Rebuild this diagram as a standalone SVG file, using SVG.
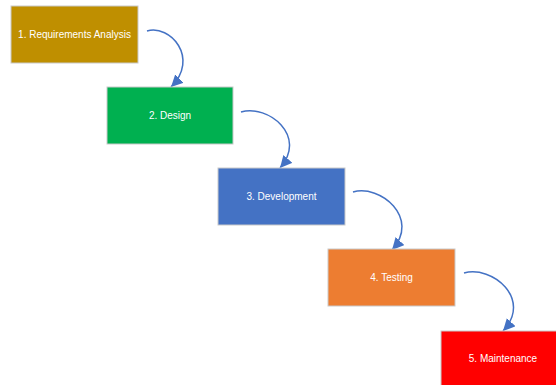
<svg xmlns="http://www.w3.org/2000/svg" width="556" height="385" viewBox="0 0 556 385">
  <style>
    .box { stroke: #C9C9C9; stroke-width: 1; }
    .label { font-family: "Liberation Sans", Arial, sans-serif; font-size: 10px; fill: #FFFFFF; text-anchor: middle; dominant-baseline: central; }
    .flow { fill: none; stroke: #4472C4; stroke-width: 1.5; marker-end: url(#arrow); }
  </style>
  <defs>
    <marker id="arrow" markerUnits="userSpaceOnUse" markerWidth="12" markerHeight="12" viewBox="0 0 10 10" refX="10" refY="5" orient="auto">
      <path d="M0,0 L10,5 L0,10 Z" fill="#4472C4"/>
    </marker>
  </defs>
  <rect width="556" height="385" fill="#FFFFFF"/>

  <g id="connectors">
    <path class="flow" d="M147,31 C170,24 200,58 171,87"/>
    <path class="flow" d="M241,112 C268,104 308,136 280,168"/>
    <path class="flow" d="M353,192 C380,184 421,218 392,250"/>
    <path class="flow" d="M464,273 C492,265 533,299 503,331"/>
  </g>

  <g id="requirements">
    <rect class="box" x="11" y="6" width="127" height="57" fill="#BF8F00"/>
    <text class="label" x="74.5" y="34.5">1. Requirements Analysis</text>
  </g>
  <g id="design">
    <rect class="box" x="107" y="87" width="126" height="57" fill="#00B050"/>
    <text class="label" x="170" y="115.5">2. Design</text>
  </g>
  <g id="development">
    <rect class="box" x="218" y="168" width="127" height="57" fill="#4472C4"/>
    <text class="label" x="281.5" y="196.5">3. Development</text>
  </g>
  <g id="testing">
    <rect class="box" x="328" y="249" width="127" height="57" fill="#ED7D31"/>
    <text class="label" x="391.5" y="277.5">4. Testing</text>
  </g>
  <g id="maintenance">
    <rect class="box" x="441" y="331" width="127" height="57" fill="#FF0000"/>
    <text class="label" x="503" y="358.5">5. Maintenance</text>
  </g>
</svg>
